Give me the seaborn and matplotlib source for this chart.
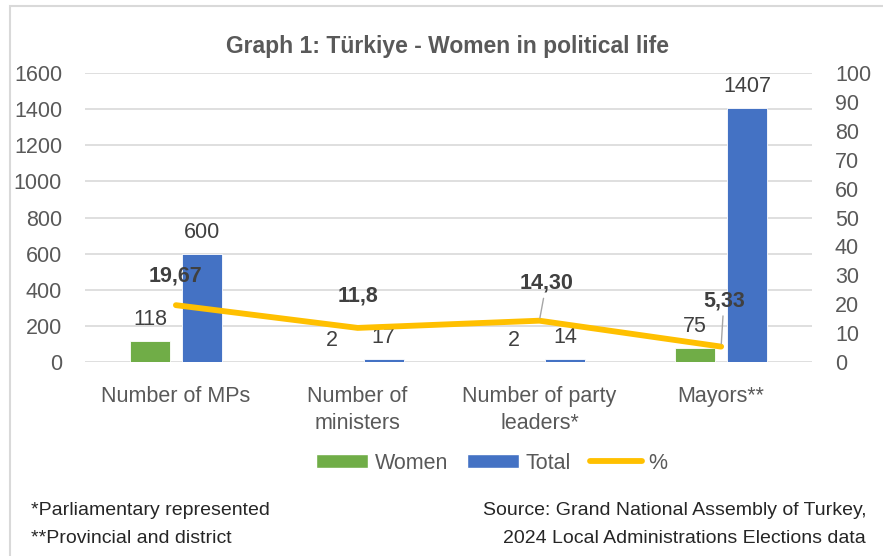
import pandas as pd
import seaborn as sns
import matplotlib.pyplot as plt
import numpy as np
from matplotlib.patches import Patch, Rectangle
from matplotlib.lines import Line2D

# Data
categories = ['Number of MPs', 'Number of\nministers', 'Number of party\nleaders*', 'Mayors**']
women = [118, 2, 2, 75]
total = [600, 17, 14, 1407]
pct = [19.67, 11.8, 14.30, 5.33]
pct_labels = ['19,67', '11,8', '14,30', '5,33']

# label placement of the % values (offset in points, leader line on/off)
pct_offsets = [(0, 21), (0, 23), (5, 27), (2, 33)]
pct_leader = [False, False, True, True]

GREEN = '#70AD47'
BLUE = '#4472C4'
YELLOW = '#FFC000'
GREY_TXT = '#595959'
DARK_TXT = '#404040'
GRID = '#D9D9D9'

sns.set_style('white')
plt.rcParams['font.family'] = ['Liberation Sans', 'DejaVu Sans']

df = pd.DataFrame({'category': categories, 'Women': women, 'Total': total})
df_long = df.melt(id_vars='category', value_vars=['Women', 'Total'],
                  var_name='series', value_name='count')

fig = plt.figure(figsize=(8.83, 5.56), dpi=100)
ax = fig.add_axes([0.0963, 0.3489, 0.8233, 0.5198])

sns.barplot(data=df_long, x='category', y='count', hue='series',
            palette=[GREEN, BLUE], saturation=1, width=0.572, gap=0.23,
            edgecolor='white', linewidth=0.6, legend=False, ax=ax)

for cont in ax.containers:
    ax.bar_label(cont, padding=8, fontsize=15.5, color=DARK_TXT)

ax.set_ylim(0, 1600)
ax.set_yticks(range(0, 1601, 200))
ax.set_xlim(-0.5, len(categories) - 0.5)
ax.set_xlabel('')
ax.set_ylabel('')
ax.grid(axis='y', color=GRID, linewidth=1.2)
ax.set_axisbelow(True)
for s in ax.spines.values():
    s.set_visible(False)
ax.tick_params(axis='y', length=0, pad=16.5, labelsize=15.5, labelcolor=GREY_TXT)
ax.tick_params(axis='x', length=0, pad=17, labelsize=15.5, labelcolor=GREY_TXT)
for lab in ax.get_xticklabels():
    lab.set_linespacing(1.4)

# secondary axis for the percentage line
ax2 = ax.twinx()
pos = np.arange(len(categories))
sns.lineplot(x=pos, y=pct, color=YELLOW, linewidth=4.2,
             solid_capstyle='round', ax=ax2)
ax2.set_ylim(0, 100)
ax2.set_yticks(range(0, 101, 10))
ax2.set_xlim(-0.5, len(categories) - 0.5)
for s in ax2.spines.values():
    s.set_visible(False)
ax2.tick_params(axis='y', length=0, pad=16.5, labelsize=15.5, labelcolor=GREY_TXT)

for x, y, lab, off, lead in zip(pos, pct, pct_labels, pct_offsets, pct_leader):
    arrow = dict(arrowstyle='-', color='#A6A6A6', lw=1, shrinkA=1, shrinkB=2) if lead else None
    ax2.annotate(lab, (x, y), xytext=off, textcoords='offset points',
                 ha='center', va='center', fontsize=15.5, fontweight='bold',
                 color=DARK_TXT, arrowprops=arrow)

fig.text(0.507, 0.917, 'Graph 1: Türkiye - Women in political life',
         ha='center', va='center', fontsize=16.5, fontweight='bold', color=GREY_TXT)

handles = [Patch(facecolor=GREEN), Patch(facecolor=BLUE),
           Line2D([0], [0], color=YELLOW, lw=4.2, solid_capstyle='round')]
fig.legend(handles, ['Women', 'Total', '%'], loc='center', ncol=3,
           bbox_to_anchor=(0.557, 0.167), frameon=False, fontsize=15.5,
           labelcolor=GREY_TXT, handlelength=2.4, handleheight=0.6,
           handletextpad=0.3, columnspacing=0.9)

fig.text(0.035, 0.081, '*Parliamentary represented', ha='left', va='center', fontsize=14)
fig.text(0.035, 0.032, '**Provincial and district', ha='left', va='center', fontsize=14)
fig.text(0.981, 0.081, 'Source: Grand National Assembly of Turkey,', ha='right', va='center', fontsize=14)
fig.text(0.981, 0.032, '2024 Local Administrations Elections data', ha='right', va='center', fontsize=14)

# chart frame
fig.patches.append(Rectangle((10 / 883, -0.05), 1.1, 1.05 - 6 / 556,
                             transform=fig.transFigure, fill=False,
                             edgecolor=GRID, linewidth=1.5))

fig.savefig('out.png', dpi=100)
